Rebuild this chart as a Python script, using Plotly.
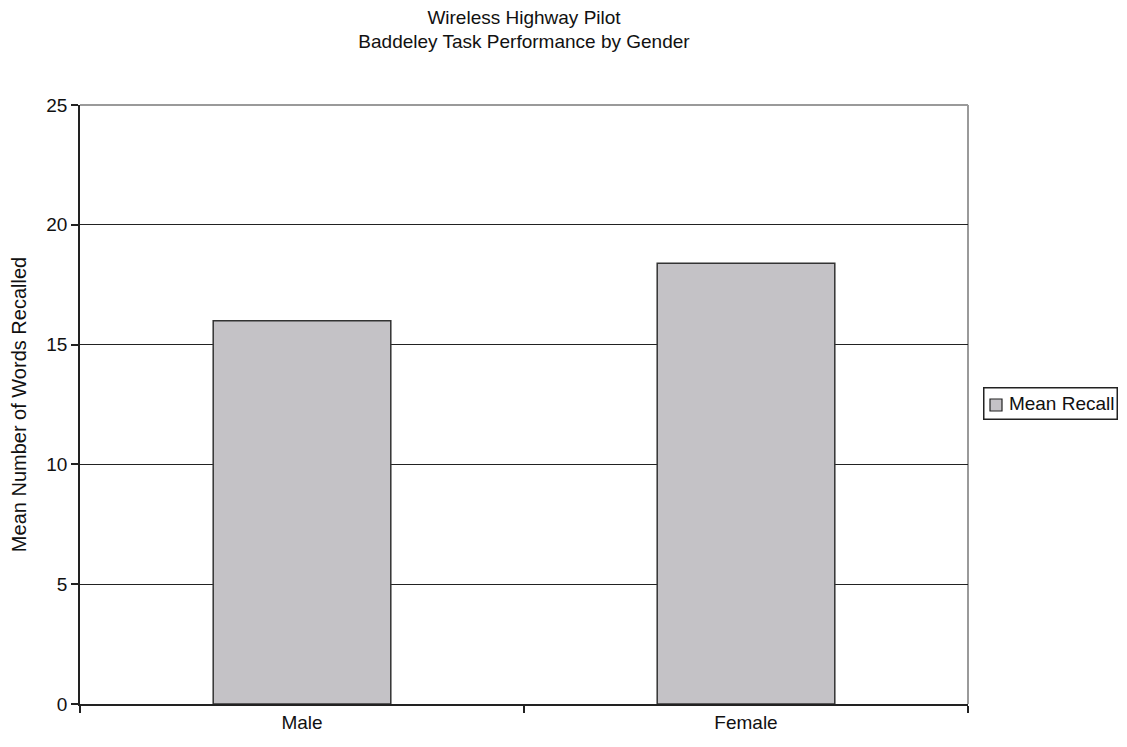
import plotly.graph_objects as go

# Baddeley task: mean words recalled per gender group
genders = ["Male", "Female"]
mean_recall = [16.0, 18.4]
y_ticks = [0, 5, 10, 15, 20, 25]
series_name = "Mean Recall"

FONT = "Liberation Sans, Arial, sans-serif"
TEXT = "#111111"
BAR_FILL = "#C4C2C6"
DARK = "#222222"

W, H = 1127, 747
L, R, T, B = 80, 159, 105, 43
PW, PH = W - L - R, H - T - B


def px_x(x):
    """Pixel column -> paper x."""
    return (x - L) / PW


def px_y(y):
    """Pixel row -> paper y."""
    return (H - B - y) / PH


fig = go.Figure()
fig.add_trace(go.Bar(
    x=genders,
    y=mean_recall,
    name=series_name,
    marker=dict(color=BAR_FILL, line=dict(color="#333333", width=1.5)),
    width=0.4,
    showlegend=False,
))

# boxed key to the right of the plotting area
key_shapes = [
    dict(type="rect", xref="paper", yref="paper",
         x0=px_x(990), x1=px_x(1002), y0=px_y(411), y1=px_y(399),
         fillcolor=BAR_FILL, line=dict(color=DARK, width=1.2)),
]
key_annotation = dict(
    text=series_name, xref="paper", yref="paper",
    x=px_x(983), xanchor="left", y=px_y(403), yanchor="middle",
    showarrow=False, width=128, height=26, align="right",
    bordercolor=DARK, borderwidth=1.5, borderpad=2, bgcolor="rgba(0,0,0,0)",
    font=dict(family=FONT, size=19, color=TEXT),
)

fig.update_layout(
    width=W,
    height=H,
    paper_bgcolor="white",
    plot_bgcolor="white",
    margin=dict(l=L, r=R, t=T, b=B),
    font=dict(family=FONT, size=19, color=TEXT),
    showlegend=False,
    title=dict(
        text="Wireless Highway Pilot<br>Baddeley Task Performance by Gender",
        x=(L + W - R) / 2 / W,
        xanchor="center",
        y=1 - 23.5 / H,
        yanchor="middle",
        font=dict(family=FONT, size=19, color=TEXT),
    ),
    bargap=0.6,
    annotations=[key_annotation],
    shapes=[
        # light frame along the top and right of the plotting area
        dict(type="line", xref="paper", yref="paper", x0=0, x1=1, y0=1, y1=1,
             line=dict(color="#9A9A9A", width=2), layer="below"),
        dict(type="line", xref="paper", yref="paper", x0=1, x1=1, y0=0, y1=1,
             line=dict(color="#9A9A9A", width=2), layer="below"),
    ] + key_shapes,
)

fig.update_xaxes(
    type="category",
    showline=True,
    linecolor=DARK,
    linewidth=1.5,
    ticks="outside",
    tickson="boundaries",
    ticklen=7,
    tickwidth=1.5,
    tickcolor=DARK,
    showgrid=False,
    tickfont=dict(family=FONT, size=19, color=TEXT),
)

fig.update_yaxes(
    range=[0, 25],
    tickvals=y_ticks,
    showline=True,
    linecolor=DARK,
    linewidth=1.5,
    ticks="outside",
    ticklen=7,
    tickwidth=1.5,
    tickcolor=DARK,
    showgrid=True,
    gridcolor=DARK,
    gridwidth=1,
    zeroline=False,
    tickfont=dict(family=FONT, size=19, color=TEXT),
    title=dict(text="Mean Number of Words Recalled", standoff=14,
               font=dict(family=FONT, size=20, color=TEXT)),
)

fig.write_html("out.html")
